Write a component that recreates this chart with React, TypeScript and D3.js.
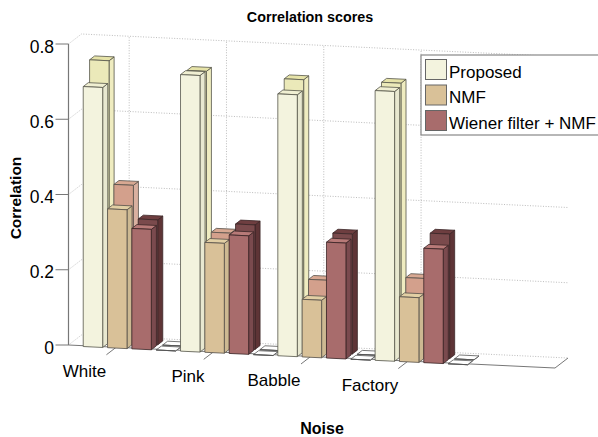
import React from "react";
import * as d3 from "d3";

const categories = ["White", "Pink", "Babble", "Factory"];
const seriesNames = ["Proposed", "NMF", "Wiener filter + NMF"];
const frontProposed = [0.691, 0.735, 0.696, 0.717];
const frontNMF = [0.369, 0.292, 0.153, 0.172];
const frontWiener = [0.32, 0.315, 0.308, 0.304];
const frontEmpty = [0, 0, 0, 0];
const backProposed = [0.749, 0.733, 0.723, 0.726];
const backNMF = [0.421, 0.306, 0.193, 0.21];
const backWiener = [0.332, 0.331, 0.319, 0.331];
const backEmpty = [0, 0, 0, 0];
const yTicks = [0, 0.2, 0.4, 0.6, 0.8];
const yTickLabels = ["0", "0.2", "0.4", "0.6", "0.8"];

const frontFill = ["#f3f3de", "#d9c198", "#a86c6c", "#ffffff"];
const frontSide = ["#e8e8d0", "#cdb992", "#7a4a4e", "#ffffff"];
const frontTop = ["#f0efd2", "#e2cfa4", "#b87a78", "#ffffff"];
const backFill = ["#ebe9b9", "#d3a08c", "#7a4a4c", "#ffffff"];
const backSide = ["#efecc0", "#d9b0a0", "#5e3436", "#ffffff"];
const backTop = ["#e6e3a8", "#d8a892", "#6e3e40", "#ffffff"];

const W = 598;
const H = 437;
const xS = d3.scaleLinear().domain([0, 5]).range([0, 486.5]);
const yS = d3.scaleLinear().domain([0, 0.8]).range([345, 44]);
const slope = d3.scaleLinear().domain([0, 5]).range([0, 23]);
const px = (u: number, d: number) => 68.5 + xS(u) + 13 * d;
const py = (u: number, d: number, v: number) => yS(v) + slope(u) - 10 * d;
const pt = (u: number, d: number, v: number): [number, number] => [px(u, d), py(u, d, v)];
const poly = (p: [number, number][]) => d3.line()(p)! + "Z";

const barStart = 0.162;
const barStep = 0.25;
const barW = 0.2;
const rowFront = [-0.08, 0.31];
const rowBack = [0.41, 0.8];
const labelCenter = [84.5, 188, 274, 370];

function Bar({ u, row, v, fill, side, top, stroke }: { u: number; row: number[]; v: number; fill: string; side: string; top: string; stroke: string }) {
  const [d0, d1] = row;
  const u1 = u + barW;
  const sw = 0.8;
  return (
    <g stroke={stroke} strokeWidth={sw} strokeLinejoin="round">
      <path d={poly([pt(u1, d0, 0), pt(u1, d1, 0), pt(u1, d1, v), pt(u1, d0, v)])} fill={side} />
      <path d={poly([pt(u, d0, v), pt(u1, d0, v), pt(u1, d1, v), pt(u, d1, v)])} fill={top} />
      <path d={poly([pt(u, d0, 0), pt(u1, d0, 0), pt(u1, d0, v), pt(u, d0, v)])} fill={fill} />
    </g>
  );
}

export default function App() {
  const front = [frontProposed, frontNMF, frontWiener, frontEmpty];
  const back = [backProposed, backNMF, backWiener, backEmpty];
  const font = "'Liberation Sans', Arial, sans-serif";
  const grid = { stroke: "#b4b4b4", strokeWidth: 0.9, strokeDasharray: "1 1.6", fill: "none" };
  const strokes = ["#55554a", "#55504a", "#3a2426", "#555"];
  return (
    <svg width={W} height={H} viewBox={`0 0 ${W} ${H}`} style={{ position: "absolute", left: 0, top: 0, background: "#fff" }} fontFamily={font}>
      {yTicks.map((t) => (
        <path key={t} d={d3.line()([pt(0, 0, t), pt(0, 1, t), pt(5, 1, t)])!} {...grid} />
      ))}
      {categories.map((c, i) => (
        <path key={c} d={d3.line()([pt(i + 0.49, 1, 0), pt(i + 0.49, 1, 0.8)])!} {...grid} />
      ))}
      {categories.map((c, i) => (
        <path key={c} d={d3.line()([pt(i + 0.49, 0, 0), pt(i + 0.49, 1, 0)])!} {...grid} />
      ))}
      <path d={d3.line()([pt(0, 0, 0), pt(5, 0, 0), pt(5, 1, 0)])!} fill="none" stroke="#777" strokeWidth={1} />
      <path d={d3.line()([pt(0, 0, 0), pt(0, 0, 0.8)])!} fill="none" stroke="#777" strokeWidth={1.2} />
      {yTicks.map((t, i) => (
        <g key={t}>
          <line x1={px(0, 0) - 13} x2={px(0, 0)} y1={yS(t)} y2={yS(t)} stroke="#777" strokeWidth={1} />
          <text x={54} y={yS(t) + 8.5} fontSize={17.5} textAnchor="end" fill="#000">{yTickLabels[i]}</text>
        </g>
      ))}
      {categories.map((c, i) => (
        <line key={c} x1={px(i + 0.49, 0)} y1={py(i + 0.49, 0, 0)} x2={px(i + 0.49, -0.75)} y2={py(i + 0.49, -0.75, 0)} stroke="#777" strokeWidth={1} />
      ))}
      {categories.map((c, gi) =>
        back.map((s, si) => (
          <Bar key={`b${gi}${si}`} u={gi + barStart + si * barStep} row={rowBack} v={s[gi]} fill={backFill[si]} side={backSide[si]} top={backTop[si]} stroke={strokes[si]} />
        ))
      )}
      {categories.map((c, gi) =>
        front.map((s, si) => (
          <Bar key={`f${gi}${si}`} u={gi + barStart + si * barStep} row={rowFront} v={s[gi]} fill={frontFill[si]} side={frontSide[si]} top={frontTop[si]} stroke={strokes[si]} />
        ))
      )}
      {categories.map((c, i) => (
        <text key={c} x={labelCenter[i]} y={py(i, 0, 0) + 32} fontSize={17} textAnchor="middle" fill="#000">{c}</text>
      ))}
      <text x={310} y={22} fontSize={14.3} fontWeight="bold" textAnchor="middle" fill="#000">Correlation scores</text>
      <text x={322} y={434} fontSize={16} fontWeight="bold" textAnchor="middle" fill="#000">Noise</text>
      <text transform="translate(21,198) rotate(-90)" fontSize={15.5} fontWeight="bold" textAnchor="middle" fill="#000">Correlation</text>
      <rect x={421} y={55} width={180} height={80} fill="#fff" stroke="#888" strokeWidth={1.2} />
      {seriesNames.map((n, i) => (
        <g key={n}>
          <rect x={425.5} y={59.5 + i * 25.5} width={21} height={20} fill={frontFill[i]} stroke="#666" strokeWidth={1} />
          <text x={449} y={77.5 + i * 25.7} fontSize={17} fill="#000">{n}</text>
        </g>
      ))}
    </svg>
  );
}
